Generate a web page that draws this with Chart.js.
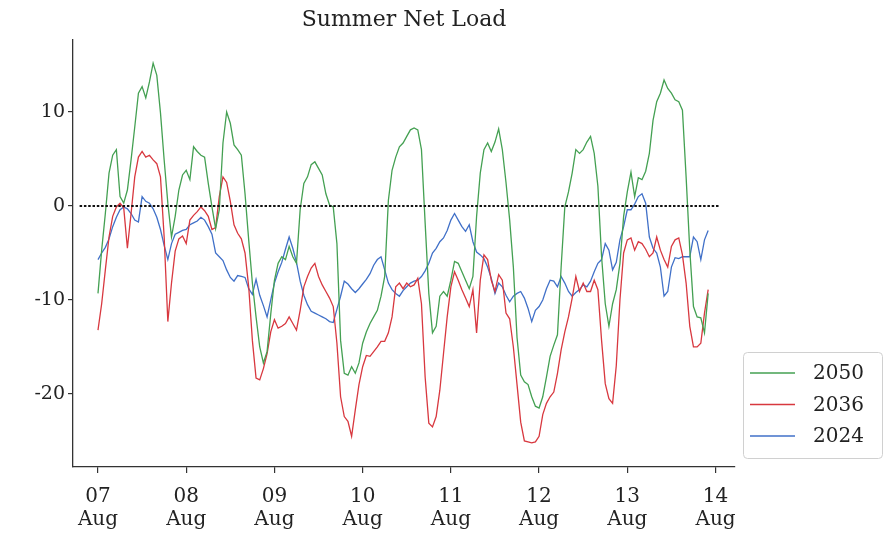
<!DOCTYPE html>
<html>
<head>
<meta charset="utf-8">
<script src="https://cdn.jsdelivr.net/npm/chart.js@4.4.1/dist/chart.umd.min.js"></script>
<style>
  html, body { margin: 0; padding: 0; background: #fff; }
</style>
</head>
<body>
<canvas id="chart" width="884" height="536"></canvas>
<script>
// --- DADOS (hourly, 07 Aug 00:00 -> 13 Aug 22:00) ---
const TITLE = 'Summer Net Load';
const SERIES_LABELS = ['2050', '2036', '2024'];
const X_TICKS = [0, 24, 48, 72, 96, 120, 144, 168];
const X_TICK_DAYS = ['07', '08', '09', '10', '11', '12', '13', '14'];
const X_TICK_MONTH = 'Aug';
const Y_TICKS = [-20, -10, 0, 10];

const NET_2050 = [
  -9.3, -4.7, -0.8, 3.5, 5.4, 6.0, 1.0, 0.3, 1.7, 4.9, 8.4, 12.0,
  12.7, 11.5, 13.2, 15.2, 13.9, 9.9, 4.9, 0.3, -3.3, -1.1, 1.7, 3.3,
  3.8, 2.8, 6.3, 5.8, 5.4, 5.2, 2.4, -0.1, -2.4, -0.4, 6.7, 10.0,
  8.8, 6.5, 6.0, 5.4, 1.3, -3.6, -8.2, -11.8, -15.0, -16.7, -15.5, -11.5,
  -7.9, -6.1, -5.4, -5.7, -4.3, -5.4, -6.1, -0.4, 2.4, 3.1, 4.4, 4.7,
  4.0, 3.3, 1.3, 0.1, -0.1, -4.0, -14.3, -17.8, -18.0, -17.1, -17.8, -16.7,
  -14.6, -13.4, -12.5, -11.8, -11.1, -9.6, -7.5, 0.6, 3.8, 5.2, 6.3, 6.7,
  7.4, 8.1, 8.3, 8.1, 6.0, -1.8, -9.3, -13.5, -12.8, -9.6, -9.1, -9.6,
  -7.9, -5.9, -6.1, -7.0, -7.9, -8.8, -7.5, -1.1, 3.5, 6.0, 6.7, 5.8,
  6.8, 8.2, 6.0, 2.5, -1.5, -6.5, -14.0, -18.0, -18.7, -19.0, -20.3, -21.3,
  -21.5, -20.3, -18.2, -16.0, -14.8, -13.7, -6.5, -0.1, 1.5, 3.5, 6.0, 5.6,
  6.0, 6.8, 7.4, 5.6, 2.1, -5.4, -10.4, -12.8, -10.4, -8.9, -6.1, -1.1,
  1.5, 3.6, 1.0, 3.0, 2.8, 3.7, 5.6, 9.1, 11.1, 12.0, 13.4, 12.5,
  12.0, 11.3, 11.1, 10.2, 3.1, -4.7, -10.7, -11.8, -11.9, -13.5, -9.3
];

const NET_2036 = [
  -13.2, -10.4, -6.8, -3.3, -1.1, -0.1, 0.3, -0.2, -4.5, -0.8, 3.1, 5.2,
  5.8, 5.2, 5.4, 4.9, 4.5, 3.1, -3.3, -12.3, -8.2, -4.8, -3.5, -3.2,
  -4.0, -1.5, -1.0, -0.6, -0.1, -0.5, -1.1, -2.5, -2.3, 1.0, 3.1, 2.5,
  0.5, -2.0, -2.9, -3.5, -5.0, -8.6, -14.3, -18.3, -18.5, -17.3, -15.7, -13.4,
  -12.1, -13.0, -12.8, -12.5, -11.8, -12.5, -13.2, -11.1, -8.6, -7.5, -6.6, -6.1,
  -7.5, -8.4, -9.1, -9.8, -10.7, -14.6, -20.3, -22.4, -22.9, -24.5, -21.7, -19.0,
  -17.1, -15.9, -16.0, -15.5, -15.0, -14.4, -14.4, -13.5, -11.8, -8.6, -8.2, -8.8,
  -8.2, -8.6, -8.4, -7.7, -10.4, -18.2, -23.1, -23.5, -22.4, -19.6, -15.7, -11.8,
  -8.6, -7.0, -7.9, -8.9, -9.8, -10.7, -8.9, -13.5, -7.9, -5.2, -5.7, -7.9,
  -9.1, -7.3, -7.9, -11.4, -12.0, -15.0, -19.0, -23.0, -25.0, -25.1, -25.2, -25.1,
  -24.5, -22.2, -21.0, -20.3, -19.8, -17.8, -15.3, -13.4, -11.8, -9.8, -7.5, -9.1,
  -8.2, -9.1, -9.1, -7.9, -8.9, -14.3, -18.9, -20.5, -21.0, -17.0, -10.0, -5.0,
  -3.6, -3.4, -4.7, -3.8, -4.0, -4.6, -5.4, -5.0, -3.3, -4.7, -5.7, -6.5,
  -4.3, -3.6, -3.4, -5.2, -8.2, -12.8, -15.0, -15.0, -14.6, -11.4, -8.9
];

const NET_2024 = [
  -5.7, -5.0, -4.4, -3.5, -2.2, -1.2, -0.4, -0.1, -0.3, -0.8, -1.5, -1.7,
  1.0, 0.5, 0.3, -0.3, -1.2, -2.5, -4.2, -5.7, -4.0, -3.0, -2.8, -2.6,
  -2.5, -2.0, -1.8, -1.6, -1.2, -1.5, -2.2, -3.0, -5.0, -5.4, -5.8, -6.8,
  -7.6, -8.0, -7.4, -7.5, -7.6, -8.8, -9.4, -7.8, -9.5, -10.6, -11.8, -10.0,
  -8.2, -7.0, -6.0, -4.6, -3.3, -4.5, -6.0, -8.0, -9.5, -10.5, -11.2, -11.4,
  -11.6, -11.8, -12.0, -12.3, -12.4, -11.0, -9.6, -8.0, -8.3, -8.8, -9.2, -8.8,
  -8.3, -7.8, -7.2, -6.3, -5.7, -5.4, -6.8, -8.2, -8.9, -9.3, -9.6, -9.0,
  -8.6, -8.2, -8.0, -7.9, -7.5, -6.9, -6.1, -5.0, -4.5, -3.8, -3.4, -2.6,
  -1.5, -0.8, -1.5, -2.2, -2.7, -2.0, -3.8, -4.9, -5.2, -5.6, -6.5, -7.7,
  -9.3, -8.2, -8.6, -9.5, -10.2, -9.6, -9.3, -9.1, -9.8, -10.9, -12.3, -11.1,
  -10.7, -10.0, -8.8, -7.9, -8.0, -8.6, -7.5, -8.2, -9.1, -9.6, -9.2, -8.9,
  -8.4, -8.6, -8.0, -7.0, -6.1, -5.7, -4.0, -4.7, -6.8, -6.0, -3.6, -2.2,
  -0.4, -0.4, 0.2, 1.0, 1.3, 0.3, -3.3, -4.5, -5.0, -6.5, -9.6, -9.1,
  -6.5, -5.5, -5.6, -5.4, -5.4, -5.4, -3.3, -3.8, -5.7, -3.6, -2.6
];

// linha pontilhada do zero
const ZERO_LINE_X = [-5, 169.3];
const ZERO_LINE_Y = [0, 0];

const COLORS = ['#44a052', '#d8383f', '#4070c8'];
const FONT = '"DejaVu Serif", serif';

// horas = índice da amostra
const toPoints = (vals) => vals.map((v, i) => ({ x: i, y: v }));

const legendPlugin = {
    id: 'titleLegend',
    afterDraw(chart) {
        const { ctx, chartArea } = chart;
        ctx.save();
        // título
        ctx.fillStyle = '#222';
        ctx.font = '22px ' + FONT;
        ctx.textAlign = 'center';
        ctx.textBaseline = 'middle';
        ctx.fillText(TITLE, (chartArea.left + chartArea.right) / 2, 20);

        // caixa da legenda
        const bx = 743, by = 352, bw = 139, bh = 106;
        ctx.beginPath();
        ctx.roundRect(bx + 0.5, by + 0.5, bw, bh, 4);
        ctx.fillStyle = 'rgba(255,255,255,0.8)';
        ctx.fill();
        ctx.strokeStyle = '#d0d0d0';
        ctx.lineWidth = 1;
        ctx.stroke();

        ctx.font = '20px ' + FONT;
        ctx.textAlign = 'left';
        SERIES_LABELS.forEach((lbl, i) => {
            const y = 373 + i * 31.5;
            ctx.beginPath();
            ctx.moveTo(750, y);
            ctx.lineTo(795, y);
            ctx.strokeStyle = COLORS[i];
            ctx.lineWidth = 1.5;
            ctx.stroke();
            ctx.fillStyle = '#222';
            ctx.fillText(lbl, 813, y + 1);
        });
        ctx.restore();
    }
};

new Chart(document.getElementById('chart'), {
    type: 'line',
    data: {
        datasets: [
            { label: SERIES_LABELS[0], data: toPoints(NET_2050), borderColor: COLORS[0], borderWidth: 1.3 },
            { label: SERIES_LABELS[1], data: toPoints(NET_2036), borderColor: COLORS[1], borderWidth: 1.3 },
            { label: SERIES_LABELS[2], data: toPoints(NET_2024), borderColor: COLORS[2], borderWidth: 1.3 },
            {
                label: 'zero',
                data: ZERO_LINE_X.map((x, i) => ({ x, y: ZERO_LINE_Y[i] })),
                borderColor: '#111', borderWidth: 2, borderDash: [2.5, 1.8], order: -1
            }
        ]
    },
    options: {
        responsive: false,
        animation: false,
        devicePixelRatio: 1,
        layout: { padding: { top: 40, right: 149, left: 0, bottom: 0 } },
        elements: { point: { radius: 0 }, line: { tension: 0, fill: false } },
        plugins: { legend: { display: false }, title: { display: false }, tooltip: { enabled: false } },
        scales: {
            x: {
                type: 'linear',
                min: -6.8, max: 173.3,
                afterBuildTicks: (s) => { s.ticks = X_TICKS.map(v => ({ value: v })); },
                afterFit: (s) => { s.height = 69; },
                ticks: {
                    autoSkip: false, maxRotation: 0, padding: 12,
                    color: '#222', font: { family: FONT, size: 20, lineHeight: 1.15 },
                    callback: (v) => {
                        const i = X_TICKS.indexOf(v);
                        return i < 0 ? '' : [X_TICK_DAYS[i], X_TICK_MONTH];
                    }
                },
                grid: { drawOnChartArea: false, drawTicks: true, tickLength: 6, color: '#333', lineWidth: 1.2 },
                border: { display: true, color: '#333', width: 1.3 }
            },
            y: {
                type: 'linear',
                min: -27.77, max: 17.66,
                afterBuildTicks: (s) => { s.ticks = Y_TICKS.map(v => ({ value: v })); },
                afterFit: (s) => { s.width = 73; },
                ticks: {
                    padding: 3, color: '#222', font: { family: FONT, size: 19 },
                    callback: (v) => String(v)
                },
                grid: { drawOnChartArea: false, drawTicks: true, tickLength: 5, color: '#333', lineWidth: 1.2 },
                border: { display: true, color: '#333', width: 1.3 }
            }
        }
    },
    plugins: [legendPlugin]
});
</script>
</body>
</html>
